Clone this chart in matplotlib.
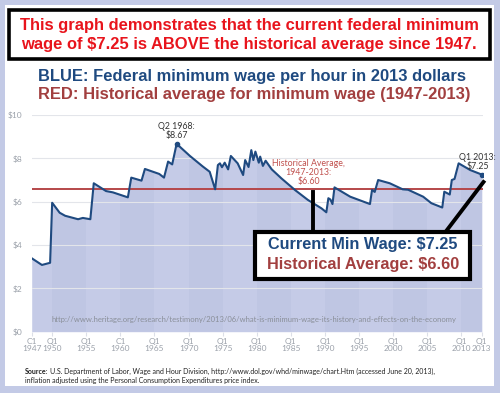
import matplotlib.pyplot as plt
from matplotlib.patches import Rectangle
from matplotlib.lines import Line2D

# quarterly-ish readings of the federal minimum wage in 2013 dollars
years = [1947.0, 1948.5, 1949.7, 1950.0, 1951.1, 1951.9, 1953.8, 1954.5, 1955.6, 1956.1,
         1957.9, 1958.9, 1961.1, 1961.6, 1963.1, 1963.6, 1965.7, 1966.4, 1967.0, 1967.6,
         1968.25, 1970.2, 1972.1, 1973.1, 1973.9, 1974.3, 1974.6, 1974.9, 1975.3, 1975.8,
         1976.2, 1977.2, 1978.0, 1978.3, 1978.8, 1979.2, 1979.5, 1979.8, 1980.3, 1980.5,
         1980.9, 1981.3, 1982.2, 1983.6, 1985.6, 1987.5, 1989.5, 1990.2, 1990.5, 1990.8,
         1991.1, 1991.4, 1993.7, 1996.6, 1996.9, 1997.3, 1997.8, 1999.5, 2001.4, 2002.2,
         2004.4, 2005.6, 2007.2, 2007.5, 2008.3, 2008.6, 2009.0, 2009.6, 2011.3, 2013.0]
wages = [3.39, 3.08, 3.18, 5.95, 5.49, 5.35, 5.19, 5.25, 5.19, 6.85,
         6.49, 6.43, 6.20, 7.11, 6.97, 7.51, 7.28, 7.11, 7.85, 7.72,
         8.67, 8.11, 7.62, 7.38, 6.57, 7.69, 7.77, 7.59, 7.80, 7.49,
         8.11, 7.77, 7.23, 7.92, 7.60, 8.38, 7.92, 8.31, 7.80, 8.08,
         7.65, 7.89, 7.49, 7.08, 6.54, 6.08, 5.69, 5.51, 6.16, 6.10,
         5.89, 6.66, 6.23, 5.89, 6.54, 6.45, 7.00, 6.85, 6.57, 6.55,
         6.23, 5.93, 5.73, 6.46, 6.33, 7.00, 7.05, 7.77, 7.46, 7.25]
hist_avg = 6.60

tick_years = [1947, 1950, 1955, 1960, 1965, 1970, 1975, 1980, 1985, 1990,
              1995, 2000, 2005, 2010, 2013]
tick_labels = ["Q1\n" + str(y) for y in tick_years]
tick_labels[0] = "C1\n1947"
tick_labels[3] = "C1\n1960"
y_ticks = [0, 2, 4, 6, 8, 10]
y_labels = ["$0", "$2", "$4", "$6", "$8", "$10"]

W, H = 500, 393
NAVY = "#1f4a80"
DKRED = "#a23f3f"
GREY = "#9ba1aa"
FILL = "#c5cbe7"


def fx(x):
    return x / W


def fy(y):
    return 1 - y / H


def main():
    fig = plt.figure(figsize=(W / 100, H / 100), dpi=100)
    fig.patch.set_facecolor("#c3cae6")
    fig.add_artist(Rectangle((fx(5), fy(386)), fx(489), 381 / H, transform=fig.transFigure,
                             facecolor="white", edgecolor="none", zorder=-1))

    ax = fig.add_axes([fx(31.7), fy(331.7), fx(482.5 - 31.7), (331.7 - 115) / H])
    ax.set_facecolor("white")
    ax.set_xlim(1947, 2013.1)
    ax.set_ylim(0, 10)

    poly = ax.fill_between(years, wages, 0, color=FILL, linewidth=0, zorder=1)
    clip = poly.get_paths()[0]
    for i in range(1, len(tick_years) - 1, 2):
        band = ax.axvspan(tick_years[i], tick_years[i + 1], color="#b4bbdc", alpha=0.3,
                          linewidth=0, zorder=1.5)
        band.set_clip_path(clip, ax.transData)

    for v in y_ticks[1:]:
        ax.axhline(v, color="#e3e5ea", linewidth=0.8, zorder=1.8)
    ax.axhline(hist_avg, color="#b5474a", linewidth=1.4, zorder=2)
    ax.plot(years, wages, color=NAVY, linewidth=1.5, zorder=3)
    ax.plot([years[20], years[-1]], [wages[20], wages[-1]], "o", color=NAVY,
            markersize=3, zorder=4)

    ax.set_xticks(tick_years)
    ax.set_xticklabels(tick_labels, fontsize=6, color=GREY, family="Lato", linespacing=1.0)
    ax.set_yticks(y_ticks)
    ax.set_yticklabels(y_labels, fontsize=6, color=GREY, family="Lato")
    ax.tick_params(axis="x", length=3, color="#dcdfe8", pad=1.5)
    ax.tick_params(axis="y", length=0, pad=7)
    for s in ax.spines.values():
        s.set_visible(False)

    ax.text(1968.25, 8.85, "Q2 1968:\n$8.67", ha="center", va="bottom", fontsize=6.3,
            color="#333333", family="Lato", linespacing=1.0)
    ax.text(2012.4, 7.42, "Q1 2013:\n$7.25", ha="center", va="bottom", fontsize=6.3,
            color="#333333", family="Lato", linespacing=1.0)
    ax.text(1987.6, 6.72, "Historical Average,\n1947-2013:\n$6.60", ha="center", va="bottom",
            fontsize=6.3, color="#c0504d", family="Lato", linespacing=1.0)
    ax.text(1979.6, 0.55, "http://www.heritage.org/research/testimony/2013/06/"
            "what-is-minimum-wage-its-history-and-effects-on-the-economy",
            ha="center", va="center", fontsize=5.5, color="#8a8f99",
            family="Lato", zorder=5)

    # header box
    fig.add_artist(Rectangle((fx(9), fy(59)), fx(481), 49 / H, transform=fig.transFigure,
                             facecolor="white", edgecolor="black", linewidth=2.6, zorder=5))
    fig.text(fx(249), fy(35), "This graph demonstrates that the current federal minimum\n"
             "wage of $7.25 is ABOVE the historical average since 1947.",
             ha="center", va="center", fontsize=11.9, fontweight="bold", color="#e8141c",
             family="Liberation Sans", linespacing=1.3, zorder=6)
    fig.text(fx(252), fy(76), "BLUE: Federal minimum wage per hour in 2013 dollars",
             ha="center", va="center", fontsize=11.9, fontweight="bold", color=NAVY,
             family="Liberation Sans")
    fig.text(fx(254), fy(95), "RED: Historical average for minimum wage (1947-2013)",
             ha="center", va="center", fontsize=11.9, fontweight="bold", color=DKRED,
             family="Liberation Sans")

    # callout
    fig.add_artist(Line2D([fx(313), fx(313)], [fy(192), fy(232)], transform=fig.transFigure,
                          color="black", linewidth=2.8, zorder=5))
    fig.add_artist(Line2D([fx(447), fx(483.5)], [fy(230), fy(182)], transform=fig.transFigure,
                          color="black", linewidth=2.8, zorder=5))
    fig.add_artist(Rectangle((fx(255.3), fy(279)), fx(215), 47 / H, transform=fig.transFigure,
                             facecolor="white", edgecolor="black", linewidth=3, zorder=6))
    fig.text(fx(363), fy(245), "Current Min Wage: $7.25", ha="center", va="center",
             fontsize=11.7, fontweight="bold", color=NAVY, family="Liberation Sans", zorder=7)
    fig.text(fx(363), fy(265), "Historical Average: $6.60", ha="center", va="center",
             fontsize=11.7, fontweight="bold", color=DKRED, family="Liberation Sans", zorder=7)

    # source note
    src = fig.text(fx(25), fy(371), "Source:", ha="left", va="center", fontsize=5.05,
                   fontweight="bold", color="#222222", family="Lato")
    fig.canvas.draw()
    bb = src.get_window_extent()
    fig.text(bb.x1 / W + fx(2), fy(371), "U.S. Department of Labor, Wage and Hour Division, "
             "http://www.dol.gov/whd/minwage/chart.Htm (accessed June 20, 2013),",
             ha="left", va="center", fontsize=5.05, color="#222222", family="Lato")
    fig.text(fx(25), fy(381), "inflation adjusted using the Personal Consumption Expenditures price index.",
             ha="left", va="center", fontsize=5.05, color="#222222", family="Lato")

    fig.savefig("out.png", dpi=100)


if __name__ == "__main__":
    main()
